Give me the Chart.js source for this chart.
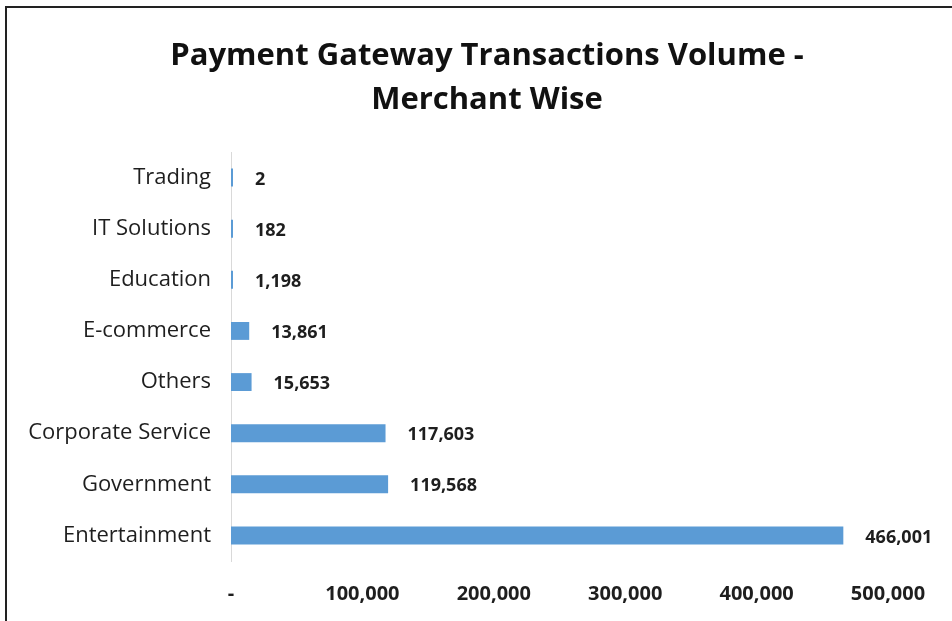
<!DOCTYPE html>
<html>
<head>
<meta charset="utf-8">
<script src="https://cdn.jsdelivr.net/npm/chart.js@4"></script>
<style>
    body { margin: 0; background: #fff; }
    #wrap { position: relative; width: 952px; height: 621px; }
    #frame {
        position: absolute; left: 5px; top: 6px; right: -10px; bottom: -10px;
        border-left: 2px solid #222; border-top: 2px solid #222;
    }
    canvas { position: absolute; left: 0; top: 0; }
</style>
</head>
<body>
<div id="wrap">
    <canvas id="chart" width="952" height="621"></canvas>
    <div id="frame"></div>
</div>
<script>
// Chart data (top to bottom as shown)
const categories = ['Trading', 'IT Solutions', 'Education', 'E-commerce', 'Others',
    'Corporate Service', 'Government', 'Entertainment'];
const volumes = [2, 182, 1198, 13861, 15653, 117603, 119568, 466001];
const xTicks = [0, 100000, 200000, 300000, 400000, 500000];
const titleLines = ['Payment Gateway Transactions Volume -', 'Merchant Wise'];

const FONT = '"Open Sans", Lato, sans-serif';
const TEXT = '#1e1e1e';

// Title drawn by hand so it can sit a bit right of centre, like the original
const chartTitle = {
    id: 'chartTitle',
    afterDraw(chart) {
        const ctx = chart.ctx;
        ctx.save();
        ctx.font = 'bold 31px ' + FONT;
        ctx.fillStyle = '#111';
        ctx.textAlign = 'center';
        ctx.textBaseline = 'middle';
        titleLines.forEach((line, i) => ctx.fillText(line, 487, 56 + i * 44));
        ctx.restore();
    }
};

// Draw value labels next to each bar
const barLabels = {
    id: 'barLabels',
    afterDatasetsDraw(chart) {
        const ctx = chart.ctx;
        const meta = chart.getDatasetMeta(0);
        ctx.save();
        ctx.font = 'bold 18px ' + FONT;
        ctx.fillStyle = TEXT;
        ctx.textAlign = 'left';
        ctx.textBaseline = 'middle';
        meta.data.forEach((bar, i) => {
            ctx.fillText(volumes[i].toLocaleString('en-US'), bar.x + 22, bar.y + 2);
        });
        ctx.restore();
    }
};

const ctx = document.getElementById('chart').getContext('2d');
new Chart(ctx, {
    type: 'bar',
    data: {
        labels: categories,
        datasets: [{
            data: volumes,
            backgroundColor: '#5B9BD5',
            borderWidth: 0,
            minBarLength: 2,
            barPercentage: 0.35,
            categoryPercentage: 1
        }]
    },
    options: {
        indexAxis: 'y',
        responsive: false,
        animation: false,
        layout: { padding: { top: 152, left: 0, right: 64, bottom: 0 } },
        plugins: {
            legend: { display: false },
            tooltip: { enabled: false },
            title: { display: false }
        },
        scales: {
            x: {
                min: 0,
                max: 500000,
                afterBuildTicks: (scale) => { scale.ticks = xTicks.map(v => ({ value: v })); },
                afterFit: (scale) => { scale.height = 60; },
                grid: { display: false },
                border: { display: false },
                ticks: {
                    padding: 13,
                    color: TEXT,
                    font: { family: FONT, size: 20, weight: 'bold' },
                    callback: (v) => v === 0 ? '-' : v.toLocaleString('en-US')
                }
            },
            y: {
                afterFit: (scale) => { scale.width = 231; },
                grid: { display: true, drawOnChartArea: false, drawTicks: false },
                border: { display: true, color: '#d9d9d9', width: 1 },
                ticks: {
                    padding: 20,
                    color: TEXT,
                    font: { family: FONT, size: 22 }
                }
            }
        }
    },
    plugins: [barLabels, chartTitle]
});
</script>
</body>
</html>
